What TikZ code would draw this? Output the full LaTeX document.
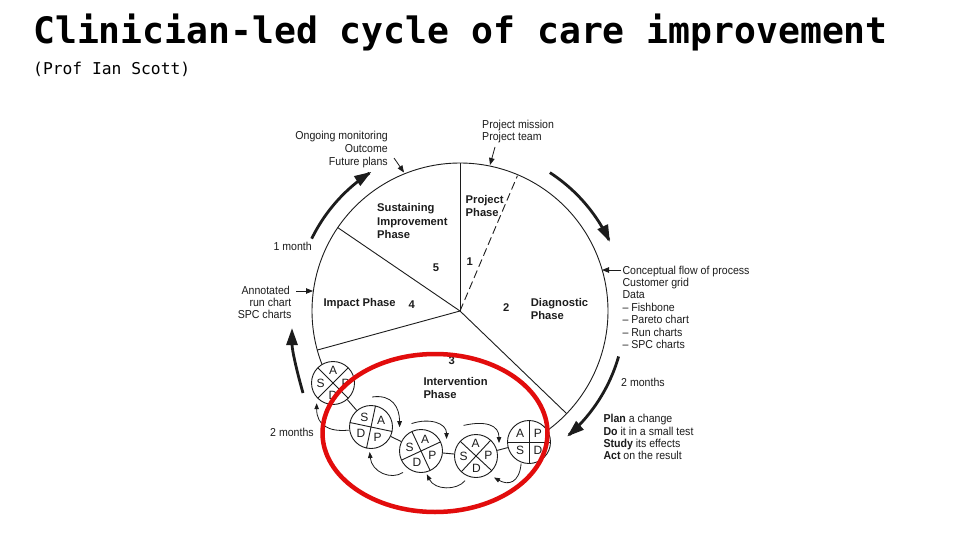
\documentclass[tikz,border=0pt]{standalone}
\usepackage{fontspec}
\setmainfont{Liberation Sans}
\newfontfamily\lblfont{Liberation Sans}[FakeStretch=0.92]
\newfontfamily\titlefont{DejaVu Sans Mono}
\usetikzlibrary{arrows.meta,calc}
\definecolor{annred}{RGB}{226,12,12}
\definecolor{ink}{RGB}{28,28,28}
\begin{document}
\begin{tikzpicture}[x=1pt,y=-1pt,
  lbl/.style={font=\lblfont\fontsize{11.5}{13}\selectfont, text=ink, inner sep=0pt},
  phs/.style={font=\fontsize{11.2}{13}\selectfont\bfseries, text=ink, inner sep=0pt},
  ltr/.style={font=\fontsize{12}{12}\selectfont, text=ink, inner sep=0pt},
  thinline/.style={draw=ink, line width=0.9pt},
  bigarrow/.style={draw=ink, line width=2.8pt, -{Triangle[length=17pt,width=11pt]}},
  smallarrow/.style={draw=ink, line width=0.8pt, -{Triangle[length=7pt,width=5.5pt]}},
  flowarrow/.style={draw=ink, line width=0.8pt, -{Triangle[length=6pt,width=4.5pt]}},
  pdsa/.style={circle, draw=ink, line width=0.9pt, fill=white, minimum size=43pt, inner sep=0pt},
  redring/.style={draw=annred, line width=4.5pt}]
\fill[white] (0,0) rectangle (960,540);
\useasboundingbox (0,0) rectangle (960,540);

% title
\node[font=\titlefont\bfseries\fontsize{36.4}{40}\selectfont, anchor=base west, inner sep=0pt] (title) at (33,43.5) {Clinician-led cycle of care improvement};
\node[font=\titlefont\fontsize{16.3}{18}\selectfont, anchor=base west, inner sep=0pt] (sub) at (33,74.5) {(Prof Ian Scott)};

% big circle and sectors
\coordinate (O) at (460,311);
\draw[thinline] plot[domain=-203:56, samples=160] ({460+148*cos(\x)},{311+148*sin(\x)});
\draw[thinline] (O) -- ([shift={(-90:148)}]O);
\draw[thinline, dash pattern=on 8pt off 4pt] (O) -- ([shift={(-67:147)}]O);
\draw[thinline] (O) -- ([shift={(-145.7:148)}]O);
\draw[thinline] (O) -- ([shift={(164.7:148)}]O);
\draw[thinline] (O) -- ([shift={(43.9:148)}]O);

% phase labels
\node[phs, anchor=base west] (sus1) at (377,211.7) {Sustaining};
\node[phs, anchor=base west] (sus2) at (377,225) {Improvement};
\node[phs, anchor=base west] (sus3) at (377,238.3) {Phase};
\node[phs, anchor=base west] (prj1) at (465.5,203.3) {Project};
\node[phs, anchor=base west] (prj2) at (465.5,216.7) {Phase};
\node[phs, anchor=base west] (n1) at (466.5,265) {1};
\node[phs, anchor=base west] (n5) at (432.7,271.7) {5};
\node[phs, anchor=base west] (imp) at (323.3,306.7) {Impact Phase};
\node[phs, anchor=base west] (n4) at (408.3,308) {4};
\node[phs, anchor=base west] (n2) at (503,311.7) {2};
\node[phs, anchor=base west] (dia1) at (530.7,306.5) {Diagnostic};
\node[phs, anchor=base west] (dia2) at (530.7,319) {Phase};
\node[phs, anchor=base west] (n3) at (448.5,364) {3};
\node[phs, anchor=base west] (int1) at (423.3,385) {Intervention};
\node[phs, anchor=base west] (int2) at (423.3,398.3) {Phase};

% annotations
\node[lbl, anchor=base east] (om1) at (388,140) {Ongoing monitoring};
\node[lbl, anchor=base east] (om2) at (388,152.5) {Outcome};
\node[lbl, anchor=base east] (om3) at (388,165) {Future plans};
\node[lbl, anchor=base west] (pm1) at (482,128.3) {Project mission};
\node[lbl, anchor=base west] (pm2) at (482,140.7) {Project team};
\node[lbl, anchor=base west] (mo1) at (273.3,250.5) {1 month};
\node[lbl, anchor=base east] (an1) at (290,294) {Annotated};
\node[lbl, anchor=base east] (an2) at (291.5,306.2) {run chart};
\node[lbl, anchor=base east] (an3) at (291.5,318.4) {SPC charts};
\node[lbl, anchor=base west] (cf1) at (622.3,274) {Conceptual flow of process};
\node[lbl, anchor=base west] (cf2) at (622.3,286.4) {Customer grid};
\node[lbl, anchor=base west] (cf3) at (622.3,298.8) {Data};
\node[lbl, anchor=base west] (cf4) at (622.3,311.2) {– Fishbone};
\node[lbl, anchor=base west] (cf5) at (622.3,323.6) {– Pareto chart};
\node[lbl, anchor=base west] (cf6) at (622.3,336) {– Run charts};
\node[lbl, anchor=base west] (cf7) at (622.3,348.4) {– SPC charts};
\node[lbl, anchor=base west] (tm1) at (621,386.7) {2 months};
\node[lbl, anchor=base west] (pd1) at (603.3,422.7) {\textbf{Plan} a change};
\node[lbl, anchor=base west] (pd2) at (603.3,435) {\textbf{Do} it in a small test};
\node[lbl, anchor=base west] (pd3) at (603.3,447.3) {\textbf{Study} its effects};
\node[lbl, anchor=base west] (pd4) at (603.3,459.7) {\textbf{Act} on the result};
\node[lbl, anchor=base west] (tm2) at (270,436.7) {2 months};

% small pointer arrows
\coordinate (fpS) at (394,158); \coordinate (fpE) at (404,172.5);
\draw[smallarrow] (fpS) -- (fpE);
\coordinate (ptS) at (495,147); \coordinate (ptE) at (490,165);
\draw[smallarrow] (ptS) -- (ptE);
\coordinate (cfS) at (621,270); \coordinate (cfE) at (602,270);
\draw[smallarrow] (cfS) -- (cfE);
\coordinate (anS) at (296,291); \coordinate (anE) at (313,291);
\draw[smallarrow] (anS) -- (anE);

% thick time arrows
\draw[bigarrow] plot[domain=206:237.5, samples=40] ({460+165*cos(\x)},{311+165*sin(\x)});
\draw[bigarrow] plot[domain=-57:-24.7, samples=40] ({460+165*cos(\x)},{311+165*sin(\x)});
\draw[bigarrow] plot[domain=16:49.5, samples=40] ({460+165*cos(\x)},{311+165*sin(\x)});
\coordinate (lfS) at (303,393); \coordinate (lfE) at (292,328);
\draw[bigarrow] (lfS) .. controls (297,372) and (292,350) .. (lfE);

% PDSA circles
\node[pdsa] (c1) at (333,383) {};
\node[pdsa] (c2) at (371,427) {};
\node[pdsa] (c3) at (421,451) {};
\node[pdsa] (c4) at (476,456) {};
\node[pdsa] (c5) at (529,442) {};

\draw[thinline] ([shift={(45:21.5)}]c1.center) -- ([shift={(225:21.5)}]c1.center);
\draw[thinline] ([shift={(135:21.5)}]c1.center) -- ([shift={(315:21.5)}]c1.center);
\draw[thinline] ([shift={(-78:21.5)}]c2.center) -- ([shift={(102:21.5)}]c2.center);
\draw[thinline] ([shift={(12:21.5)}]c2.center) -- ([shift={(192:21.5)}]c2.center);
\draw[thinline] ([shift={(-115:21.5)}]c3.center) -- ([shift={(65:21.5)}]c3.center);
\draw[thinline] ([shift={(-25:21.5)}]c3.center) -- ([shift={(155:21.5)}]c3.center);
\draw[thinline] ([shift={(-47:21.5)}]c4.center) -- ([shift={(133:21.5)}]c4.center);
\draw[thinline] ([shift={(43:21.5)}]c4.center) -- ([shift={(223:21.5)}]c4.center);
\draw[thinline] ([shift={(-90:21.5)}]c5.center) -- ([shift={(90:21.5)}]c5.center);
\draw[thinline] ([shift={(0:21.5)}]c5.center) -- ([shift={(180:21.5)}]c5.center);

\node[ltr] (c1A) at ([shift={(-90:12.5)}]c1.center) {A};
\node[ltr] (c1S) at ([shift={(180:12.5)}]c1.center) {S};
\node[ltr] (c1P) at ([shift={(0:12.5)}]c1.center) {P};
\node[ltr] (c1D) at ([shift={(90:12.5)}]c1.center) {D};
\node[ltr] (c2S) at ([shift={(-123:12)}]c2.center) {S};
\node[ltr] (c2A) at ([shift={(-33:12)}]c2.center) {A};
\node[ltr] (c2P) at ([shift={(57:12)}]c2.center) {P};
\node[ltr] (c2D) at ([shift={(147:12)}]c2.center) {D};
\node[ltr] (c3S) at ([shift={(200:12)}]c3.center) {S};
\node[ltr] (c3A) at ([shift={(-70:12)}]c3.center) {A};
\node[ltr] (c3P) at ([shift={(20:12)}]c3.center) {P};
\node[ltr] (c3D) at ([shift={(110:12)}]c3.center) {D};
\node[ltr] (c4A) at ([shift={(-92:12.5)}]c4.center) {A};
\node[ltr] (c4S) at ([shift={(178:12.5)}]c4.center) {S};
\node[ltr] (c4P) at ([shift={(-2:12.5)}]c4.center) {P};
\node[ltr] (c4D) at ([shift={(88:12.5)}]c4.center) {D};
\node[ltr] (c5A) at ([shift={(-135:12.5)}]c5.center) {A};
\node[ltr] (c5P) at ([shift={(-45:12.5)}]c5.center) {P};
\node[ltr] (c5S) at ([shift={(135:12.5)}]c5.center) {S};
\node[ltr] (c5D) at ([shift={(45:12.5)}]c5.center) {D};

% connectors between PDSA circles
\draw[thinline] (c1) -- (c2);
\draw[thinline] (c2) -- (c3);
\draw[thinline] (c3) -- (c4);
\draw[thinline] (c4) -- (c5);

% forward (above) and return (below) arrows
\draw[flowarrow] ([shift={(-88:30)}]c2.center) .. controls +(20,-3) and +(0,-20) .. ([shift={(-132:32)}]c3.center);
\draw[flowarrow] ([shift={(-109:29)}]c3.center) .. controls +(18,-6) and +(0,-16) .. ([shift={(-150:34)}]c4.center);
\draw[flowarrow] ([shift={(-112:33)}]c4.center) .. controls +(22,-5) and +(0,-18) .. ([shift={(178:30)}]c5.center);
\draw[flowarrow] ([shift={(172:22.5)}]c2.center) .. controls +(-20,2) and +(0,22) .. ([shift={(129:26)}]c1.center);
\draw[flowarrow] ([shift={(130:28)}]c3.center) .. controls +(-12,8) and +(2,20) .. ([shift={(93:25)}]c2.center);
\draw[flowarrow] ([shift={(114:27)}]c4.center) .. controls +(-8,10) and +(8,16) .. ([shift={(76:24)}]c3.center);
\draw[flowarrow] ([shift={(110:23)}]c5.center) .. controls +(-2,20) and +(14,8) .. ([shift={(50:28)}]c4.center);

% red highlight
\draw[redring] (435,433) ellipse [x radius=112.5, y radius=79];
\end{tikzpicture}
\end{document}
